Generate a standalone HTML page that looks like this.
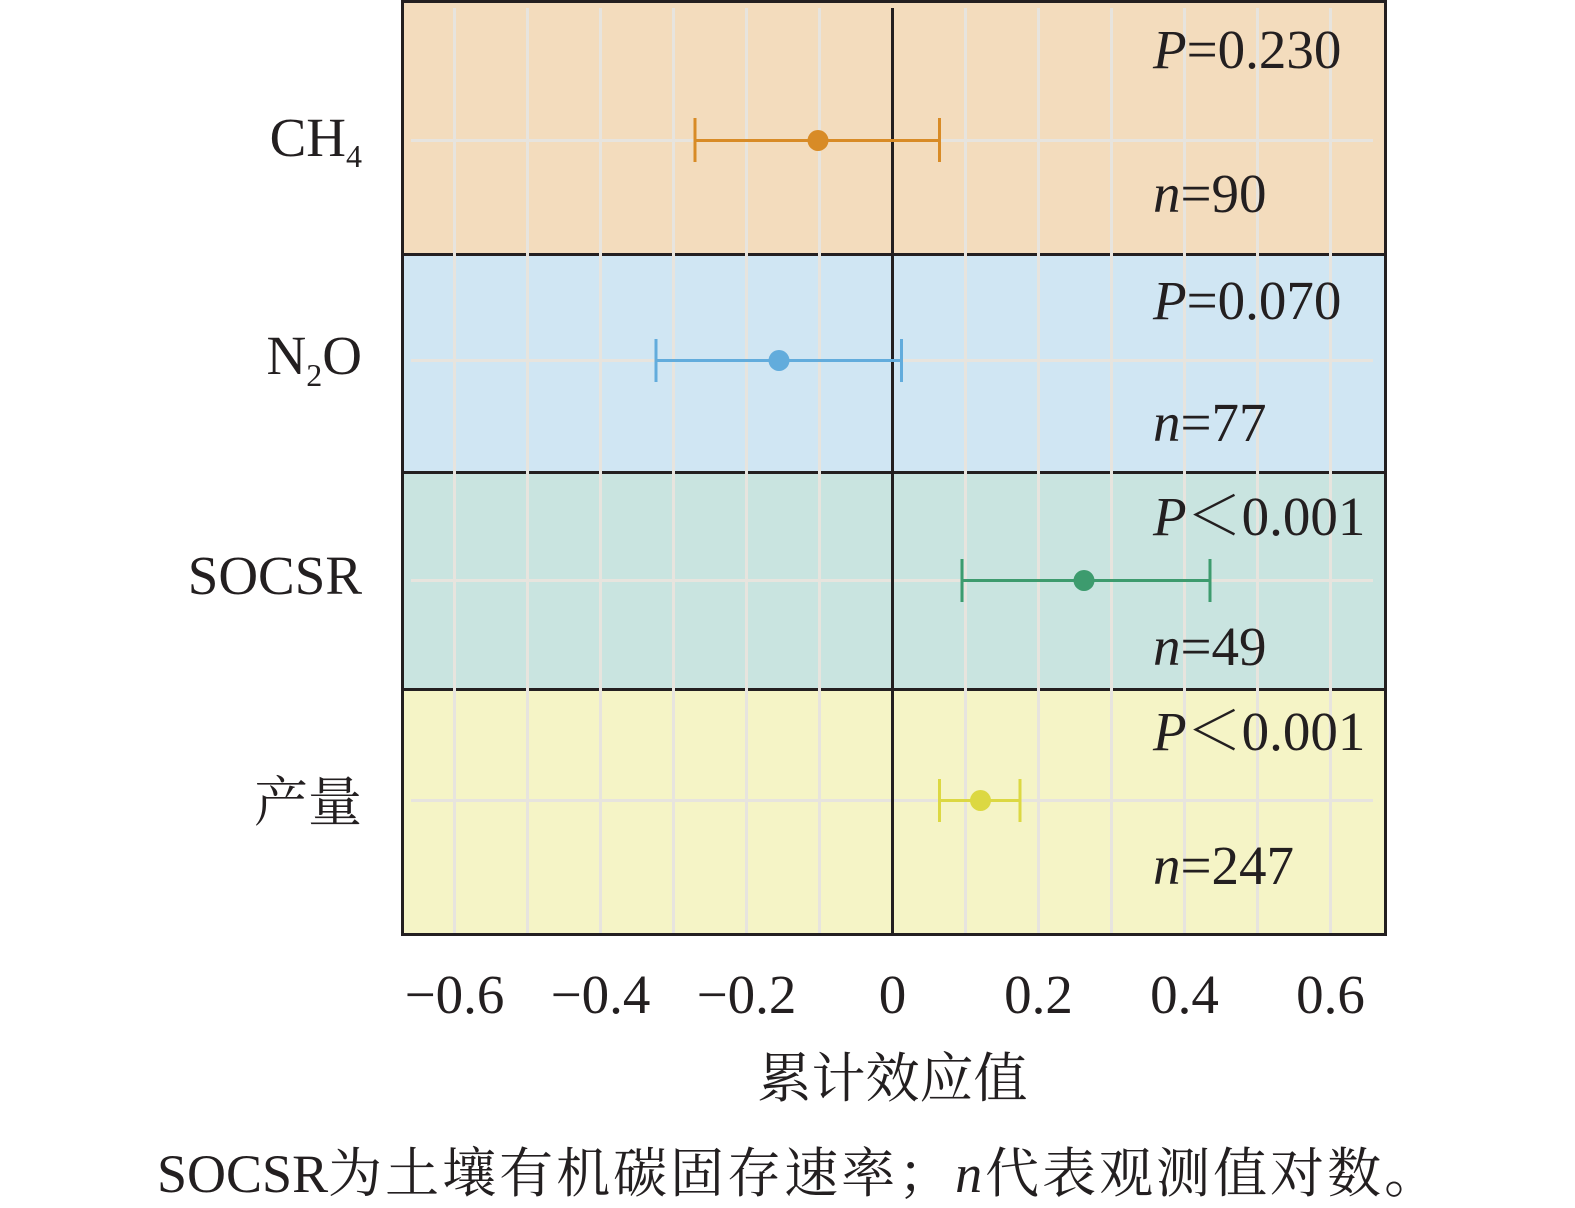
<!DOCTYPE html>
<html>
<head>
<meta charset="utf-8">
<style>
  html, body { margin: 0; padding: 0; background: #ffffff; }
  body { width: 1575px; height: 1208px; overflow: hidden; }
  svg { display: block; }
  text { font-family: "Liberation Serif", "Noto Serif CJK SC", serif; fill: #231f20; }
  .cjk { font-family: "Liberation Serif", "Noto Serif CJK SC", serif; }
</style>
</head>
<body>
<svg width="1575" height="1208" viewBox="0 0 1575 1208" xmlns="http://www.w3.org/2000/svg">
  <!-- bands -->
  <rect x="402" y="2" width="984" height="253" fill="#f3dcbd"/>
  <rect x="402" y="255" width="984" height="218" fill="#d0e6f3"/>
  <rect x="402" y="473" width="984" height="217" fill="#c9e4e0"/>
  <rect x="402" y="690" width="984" height="244" fill="#f5f4c6"/>

  <!-- dividers -->
  <line x1="402" y1="254.5" x2="1386" y2="254.5" stroke="#231f20" stroke-width="3"/>
  <line x1="402" y1="472.5" x2="1386" y2="472.5" stroke="#231f20" stroke-width="3"/>
  <line x1="402" y1="689.5" x2="1386" y2="689.5" stroke="#231f20" stroke-width="3"/>

  <!-- vertical gridlines -->
  <g stroke="#e7e4de" stroke-width="3">
    <line x1="454.5" y1="8" x2="454.5" y2="933"/>
    <line x1="527.5" y1="8" x2="527.5" y2="933"/>
    <line x1="600.5" y1="8" x2="600.5" y2="933"/>
    <line x1="673.5" y1="8" x2="673.5" y2="933"/>
    <line x1="746.5" y1="8" x2="746.5" y2="933"/>
    <line x1="819.5" y1="8" x2="819.5" y2="933"/>
    <line x1="965.5" y1="8" x2="965.5" y2="933"/>
    <line x1="1038.5" y1="8" x2="1038.5" y2="933"/>
    <line x1="1111.5" y1="8" x2="1111.5" y2="933"/>
    <line x1="1184.5" y1="8" x2="1184.5" y2="933"/>
    <line x1="1257.5" y1="8" x2="1257.5" y2="933"/>
    <line x1="1330.5" y1="8" x2="1330.5" y2="933"/>
  </g>
  <!-- horizontal gridlines -->
  <g stroke="#e7e4de" stroke-width="3">
    <line x1="411" y1="140.5" x2="1373" y2="140.5"/>
    <line x1="411" y1="360.5" x2="1373" y2="360.5"/>
    <line x1="411" y1="580.5" x2="1373" y2="580.5"/>
    <line x1="411" y1="800.5" x2="1373" y2="800.5"/>
  </g>

  <!-- zero line -->
  <line x1="892.5" y1="8" x2="892.5" y2="934" stroke="#231f20" stroke-width="3"/>

  <!-- frame -->
  <rect x="402.5" y="1.5" width="983" height="933" fill="none" stroke="#231f20" stroke-width="3"/>

  <!-- CH4 -->
  <g stroke="#d88b26" stroke-width="3">
    <line x1="695" y1="140.5" x2="939.5" y2="140.5"/>
    <line x1="695" y1="118" x2="695" y2="162"/>
    <line x1="939.5" y1="118" x2="939.5" y2="162"/>
  </g>
  <circle cx="818" cy="140.5" r="10.5" fill="#d88b26"/>

  <!-- N2O -->
  <g stroke="#62acdc" stroke-width="3">
    <line x1="656" y1="360.5" x2="901.5" y2="360.5"/>
    <line x1="656" y1="339" x2="656" y2="382"/>
    <line x1="901.5" y1="339" x2="901.5" y2="382"/>
  </g>
  <circle cx="779" cy="360.5" r="10.5" fill="#62acdc"/>

  <!-- SOCSR -->
  <g stroke="#3d9b6e" stroke-width="3">
    <line x1="962" y1="580.5" x2="1210" y2="580.5"/>
    <line x1="962" y1="559" x2="962" y2="602"/>
    <line x1="1210" y1="559" x2="1210" y2="602"/>
  </g>
  <circle cx="1084" cy="580.5" r="10.5" fill="#3d9b6e"/>

  <!-- Yield -->
  <g stroke="#dcd842" stroke-width="3">
    <line x1="939.5" y1="800.5" x2="1020" y2="800.5"/>
    <line x1="939.5" y1="779" x2="939.5" y2="822"/>
    <line x1="1020" y1="779" x2="1020" y2="822"/>
  </g>
  <circle cx="980.5" cy="800.5" r="10.5" fill="#dcd842"/>

  <!-- P / n annotations -->
  <g font-size="55">
    <text x="1153" y="68"><tspan font-style="italic">P</tspan>=0.230</text>
    <text x="1153" y="212"><tspan font-style="italic">n</tspan>=90</text>
    <text x="1153" y="319"><tspan font-style="italic">P</tspan>=0.070</text>
    <text x="1153" y="441"><tspan font-style="italic">n</tspan>=77</text>
    <text x="1153" y="535"><tspan font-style="italic">P</tspan><tspan class="cjk">＜</tspan>0.001</text>
    <text x="1153" y="665"><tspan font-style="italic">n</tspan>=49</text>
    <text x="1153" y="750"><tspan font-style="italic">P</tspan><tspan class="cjk">＜</tspan>0.001</text>
    <text x="1153" y="884"><tspan font-style="italic">n</tspan>=247</text>
  </g>

  <!-- y labels -->
  <g font-size="55" text-anchor="end">
    <text x="362" y="156">CH<tspan dy="11" font-size="32">4</tspan></text>
    <text x="362" y="374">N<tspan dy="12" font-size="32">2</tspan><tspan dy="-12">O</tspan></text>
    <text x="362" y="594">SOCSR</text>
    <text x="362" y="821" font-size="54" class="cjk">产量</text>
  </g>

  <!-- x tick labels -->
  <g font-size="55" text-anchor="middle">
    <text x="454.5" y="1013">−0.6</text>
    <text x="600.5" y="1013">−0.4</text>
    <text x="746.5" y="1013">−0.2</text>
    <text x="892.5" y="1013">0</text>
    <text x="1038.5" y="1013">0.2</text>
    <text x="1184.5" y="1013">0.4</text>
    <text x="1330.5" y="1013">0.6</text>
  </g>

  <!-- x title -->
  <text x="892.5" y="1097" font-size="54" text-anchor="middle" class="cjk">累计效应值</text>

  <!-- caption -->
  <text x="157" y="1192" font-size="54" class="cjk">SOCSR<tspan letter-spacing="3">为土壤有机碳固存速率；<tspan font-style="italic">n</tspan>代表观测值对数。</tspan></text>
</svg>
</body>
</html>
